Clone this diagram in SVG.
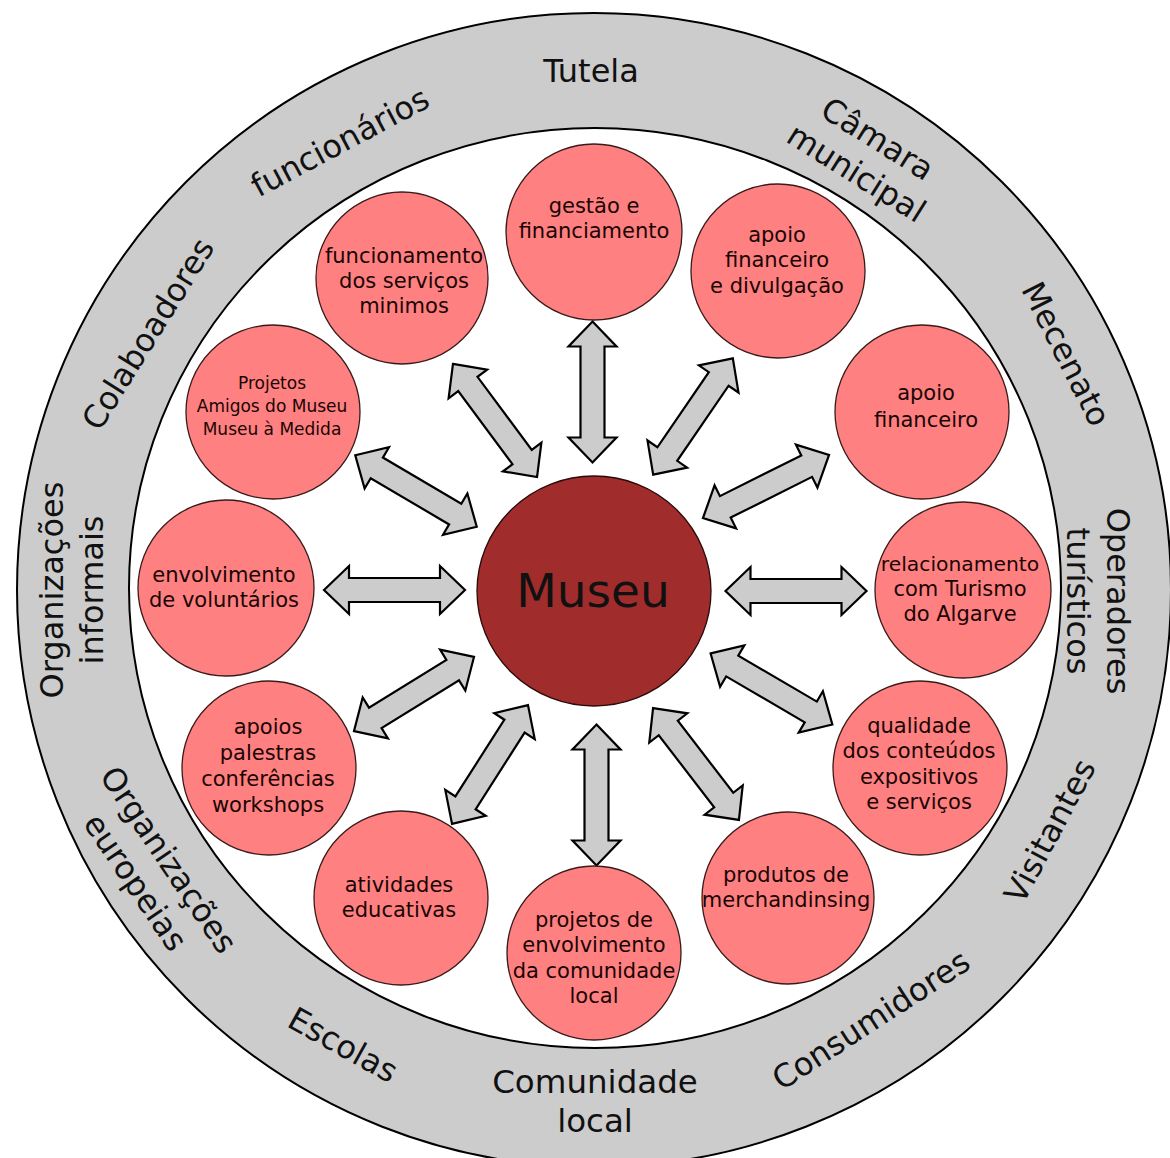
<svg xmlns="http://www.w3.org/2000/svg" xmlns:xlink="http://www.w3.org/1999/xlink" width="1170" height="1158" viewBox="0 0 1170 1158">
<style>
  text { font-family: "DejaVu Sans", "Noto Sans", sans-serif; fill: #111; }
  .ring-label { font-size: 32px; }
  .node-text { font-size: 21px; text-anchor: middle; fill: #1a0505; }
  .node-circle { fill: #ff8080; stroke: #3a1a1a; stroke-width: 1.3; }
  .arrow { fill: #cccccc; stroke: #000; stroke-width: 2.2; stroke-linejoin: miter; }
</style>
<defs>
  <path id="dbl" d="M -70.5 0 L -45.5 -24 L -45.5 -12 L 45.5 -12 L 45.5 -24 L 70.5 0 L 45.5 24 L 45.5 12 L -45.5 12 L -45.5 24 Z"/>
</defs>
<rect width="1170" height="1158" fill="#ffffff"/>

<g id="ring">
  <circle cx="594" cy="590" r="577" fill="#cccccc" stroke="#000" stroke-width="2"/>
  <ellipse cx="595" cy="588" rx="466" ry="460" fill="#ffffff" stroke="#000" stroke-width="2"/>
  <g class="ring-label" text-anchor="middle">
    <text x="591" y="82">Tutela</text>
    <text transform="translate(340,142) rotate(-28)" y="11">funcionários</text>
    <text transform="translate(148,334) rotate(-58)" y="11">Colaboadores</text>
    <g transform="translate(72,590) rotate(-90)">
      <text y="-9">Organizações</text>
      <text y="31">informais</text>
    </g>
    <g transform="translate(152,871) rotate(56)">
      <text y="-9">Organizações</text>
      <text y="31">europeias</text>
    </g>
    <text transform="translate(343,1045) rotate(29)" y="11">Escolas</text>
    <text x="595" y="1093" style="font-size:32.5px">Comunidade</text>
    <text x="595" y="1132" style="font-size:32.5px">local</text>
    <text transform="translate(871,1020) rotate(-33)" y="11">Consumidores</text>
    <text transform="translate(1050,831) rotate(-62)" y="11">Visitantes</text>
    <g transform="translate(1098,601) rotate(90)">
      <text y="-9">Operadores</text>
      <text y="31">turísticos</text>
    </g>
    <text transform="translate(1066,354) rotate(63)" y="11">Mecenato</text>
    <g transform="translate(867,156) rotate(32)">
      <text y="-9">Câmara</text>
      <text y="31">municipal</text>
    </g>
  </g>
</g>

<g id="connectors">
  <use xlink:href="#dbl" class="arrow" transform="translate(592.5,392) rotate(90)"/>
  <use xlink:href="#dbl" class="arrow" transform="translate(693,416.5) rotate(-55.6)"/>
  <use xlink:href="#dbl" class="arrow" transform="translate(766,486.5) rotate(-26.6)"/>
  <use xlink:href="#dbl" class="arrow" transform="translate(796,591) rotate(0)"/>
  <use xlink:href="#dbl" class="arrow" transform="translate(771.5,689) rotate(30.3)"/>
  <use xlink:href="#dbl" class="arrow" transform="translate(696,764) rotate(52.5)"/>
  <use xlink:href="#dbl" class="arrow" transform="translate(596.5,795) rotate(90)"/>
  <use xlink:href="#dbl" class="arrow" transform="translate(490,764.5) rotate(-57.4)"/>
  <use xlink:href="#dbl" class="arrow" transform="translate(414,694) rotate(-31.7)"/>
  <use xlink:href="#dbl" class="arrow" transform="translate(394.5,590) rotate(0)"/>
  <use xlink:href="#dbl" class="arrow" transform="translate(416,491) rotate(30.5)"/>
  <use xlink:href="#dbl" class="arrow" transform="translate(495,420.5) rotate(53.4)"/>
</g>

<g id="museu">
  <ellipse cx="594" cy="591" rx="117" ry="115" fill="#a02c2c" stroke="#2a0a0a" stroke-width="1.3"/>
  <text x="593" y="607" text-anchor="middle" style="font-size:47px" fill="#000">Museu</text>
</g>

<g id="gestao">
  <circle class="node-circle" cx="594" cy="232" r="88"/>
  <text class="node-text" x="594" y="213">gestão e</text>
  <text class="node-text" x="594" y="238">financiamento</text>
</g>
<g id="apoio-divulgacao">
  <circle class="node-circle" cx="778" cy="271" r="87"/>
  <text class="node-text" x="777" y="242">apoio</text>
  <text class="node-text" x="777" y="267">financeiro</text>
  <text class="node-text" x="777" y="293">e divulgação</text>
</g>
<g id="apoio-financeiro">
  <circle class="node-circle" cx="922" cy="412" r="87"/>
  <text class="node-text" x="926" y="400">apoio</text>
  <text class="node-text" x="926" y="427">financeiro</text>
</g>
<g id="relacionamento">
  <circle class="node-circle" cx="963" cy="590" r="88"/>
  <text class="node-text" x="960" y="571" style="font-size:20.3px">relacionamento</text>
  <text class="node-text" x="960" y="596">com Turismo</text>
  <text class="node-text" x="960" y="621">do Algarve</text>
</g>
<g id="qualidade">
  <circle class="node-circle" cx="920" cy="768" r="87"/>
  <text class="node-text" x="919" y="733">qualidade</text>
  <text class="node-text" x="919" y="758">dos conteúdos</text>
  <text class="node-text" x="919" y="784">expositivos</text>
  <text class="node-text" x="919" y="809">e serviços</text>
</g>
<g id="produtos">
  <circle class="node-circle" cx="788" cy="898" r="86"/>
  <text class="node-text" x="786" y="882">produtos de</text>
  <text class="node-text" x="786" y="907">merchandinsing</text>
</g>
<g id="projetos-comunidade">
  <circle class="node-circle" cx="594" cy="953" r="87"/>
  <text class="node-text" x="594" y="927">projetos de</text>
  <text class="node-text" x="594" y="952">envolvimento</text>
  <text class="node-text" x="594" y="978">da comunidade</text>
  <text class="node-text" x="594" y="1003">local</text>
</g>
<g id="atividades">
  <circle class="node-circle" cx="401" cy="898" r="87"/>
  <text class="node-text" x="399" y="892">atividades</text>
  <text class="node-text" x="399" y="917">educativas</text>
</g>
<g id="apoios-palestras">
  <circle class="node-circle" cx="269" cy="768" r="87"/>
  <text class="node-text" x="268" y="734">apoios</text>
  <text class="node-text" x="268" y="760">palestras</text>
  <text class="node-text" x="268" y="786">conferências</text>
  <text class="node-text" x="268" y="812">workshops</text>
</g>
<g id="voluntarios">
  <circle class="node-circle" cx="226" cy="588" r="88"/>
  <text class="node-text" x="224" y="582">envolvimento</text>
  <text class="node-text" x="224" y="607">de voluntários</text>
</g>
<g id="projetos-amigos">
  <circle class="node-circle" cx="273" cy="412" r="87"/>
  <text class="node-text" x="272" y="389" style="font-size:17px">Projetos</text>
  <text class="node-text" x="272" y="412" style="font-size:17px">Amigos do Museu</text>
  <text class="node-text" x="272" y="435" style="font-size:17px">Museu à Medida</text>
</g>
<g id="funcionamento">
  <circle class="node-circle" cx="402" cy="278" r="86"/>
  <text class="node-text" x="404" y="263">funcionamento</text>
  <text class="node-text" x="404" y="288">dos serviços</text>
  <text class="node-text" x="404" y="313">minimos</text>
</g>
</svg>
